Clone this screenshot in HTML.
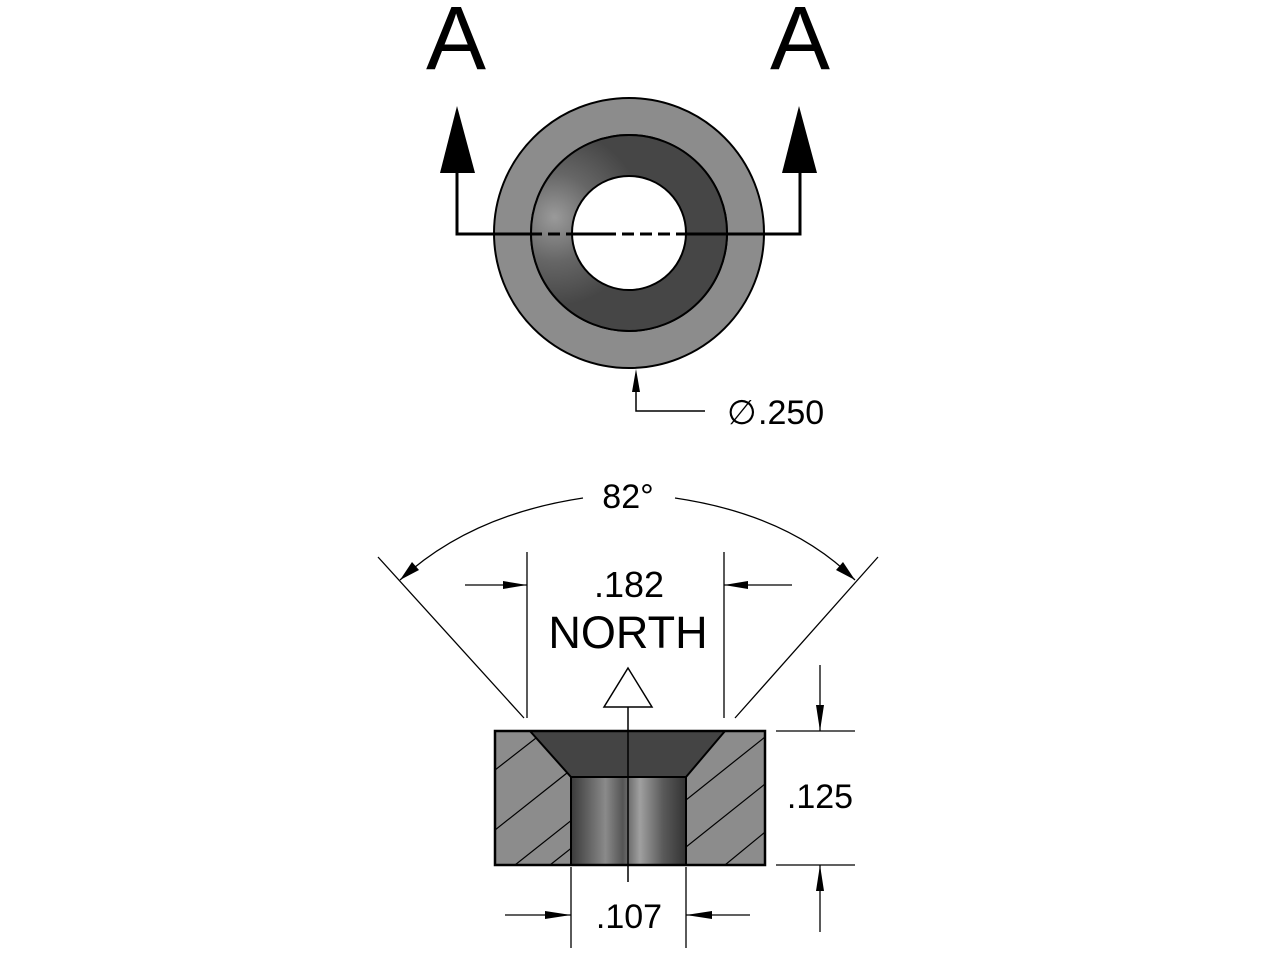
<!DOCTYPE html>
<html><head><style>html,body{margin:0;padding:0;background:#fff;}svg{display:block}</style></head><body>
<svg width="1280" height="960" viewBox="0 0 1280 960" xmlns="http://www.w3.org/2000/svg" font-family="Liberation Sans, sans-serif">
<defs>
<linearGradient id="bore" x1="0" x2="1" y1="0" y2="0">
<stop offset="0" stop-color="#3a3a3a"/><stop offset="0.3" stop-color="#8a8a8a"/><stop offset="0.45" stop-color="#555"/><stop offset="0.6" stop-color="#a0a0a0"/><stop offset="0.8" stop-color="#5a5a5a"/><stop offset="1" stop-color="#333"/>
</linearGradient>
<radialGradient id="ring" cx="0.12" cy="0.42" r="0.45">
<stop offset="0" stop-color="#9a9a9a"/><stop offset="0.5" stop-color="#666"/><stop offset="1" stop-color="#464646"/>
</radialGradient>
<clipPath id="lc"><polygon points="495,731 530,731 571,777 571,865 495,865"/></clipPath>
<clipPath id="rc"><polygon points="725,731 765,731 765,865 686,865 686,777"/></clipPath>
</defs>
<text x="456" y="69" font-size="90" text-anchor="middle">A</text>
<text x="800" y="69" font-size="90" text-anchor="middle">A</text>
<circle cx="629" cy="233" r="135" fill="#8c8c8c" stroke="#000" stroke-width="2"/>
<circle cx="629" cy="233" r="98" fill="#464646" stroke="#000" stroke-width="2"/>
<circle cx="629" cy="233" r="98" fill="url(#ring)" stroke="#000" stroke-width="2"/>
<circle cx="629" cy="233" r="57" fill="#fff" stroke="#000" stroke-width="2"/>
<polyline points="457,172 457,234 530,234" fill="none" stroke="#000" stroke-width="3"/>
<polyline points="800,172 800,234 726,234" fill="none" stroke="#000" stroke-width="3"/>
<line x1="530" y1="234" x2="726" y2="234" stroke="#000" stroke-width="3" stroke-dasharray="12,6,12,6,50,6,12,6"/>
<polygon points="457,106 440,173 475,173" fill="#000"/>
<polygon points="799,106 782,173 817,173" fill="#000"/>
<polyline points="636,380 636,411 705,411" fill="none" stroke="#000" stroke-width="1.5"/>
<polygon points="636,369 632,392 640,392" fill="#000"/>
<text x="727" y="424" font-size="34">∅</text>
<text x="758" y="424" font-size="34">.250</text>
<rect x="495" y="731" width="270" height="134" fill="#8c8c8c"/>
<g clip-path="url(#lc)" stroke="#000" stroke-width="1.2">
<line x1="495" y1="770" x2="545" y2="731"/><line x1="495" y1="830" x2="620" y2="731"/><line x1="515" y1="865" x2="640" y2="766"/><line x1="550" y1="865" x2="680" y2="762"/>
</g>
<g clip-path="url(#rc)" stroke="#000" stroke-width="1.2">
<line x1="686" y1="800" x2="770" y2="733"/><line x1="686" y1="847" x2="770" y2="780"/><line x1="725" y1="865" x2="770" y2="828"/>
</g>
<polygon points="530,731 725,731 686,777 571,777" fill="#444" stroke="#000" stroke-width="2"/>
<rect x="571" y="777" width="115" height="88" fill="url(#bore)" stroke="#000" stroke-width="2"/>
<rect x="495" y="731" width="270" height="134" fill="none" stroke="#000" stroke-width="2.5"/>
<line x1="628" y1="705" x2="628" y2="882" stroke="#000" stroke-width="1.5"/>
<polygon points="628,668 604,707 652,707" fill="#fff" stroke="#000" stroke-width="1.5"/>
<line x1="378" y1="557" x2="524" y2="718" stroke="#000" stroke-width="1.3"/>
<line x1="878" y1="557" x2="735" y2="718" stroke="#000" stroke-width="1.3"/>
<path d="M400,580 Q470,515 583,498" fill="none" stroke="#000" stroke-width="1.3"/>
<path d="M675,498 Q790,515 855,580" fill="none" stroke="#000" stroke-width="1.3"/>
<polygon points="400,580 412,562 419,570" fill="#000"/>
<polygon points="855,580 843,562 836,570" fill="#000"/>
<text x="628" y="508" font-size="34" text-anchor="middle">82°</text>
<line x1="527" y1="552" x2="527" y2="718" stroke="#000" stroke-width="1.3"/>
<line x1="724" y1="552" x2="724" y2="718" stroke="#000" stroke-width="1.3"/>
<line x1="465" y1="585" x2="527" y2="585" stroke="#000" stroke-width="1.3"/>
<polygon points="527,585 503,581 503,589" fill="#000"/>
<line x1="724" y1="585" x2="792" y2="585" stroke="#000" stroke-width="1.3"/>
<polygon points="724,585 748,581 748,589" fill="#000"/>
<text x="629" y="597" font-size="36" text-anchor="middle">.182</text>
<text x="628" y="648" font-size="45" text-anchor="middle">NORTH</text>
<line x1="776" y1="731" x2="855" y2="731" stroke="#000" stroke-width="1.3"/>
<line x1="776" y1="865" x2="855" y2="865" stroke="#000" stroke-width="1.3"/>
<line x1="820" y1="665" x2="820" y2="731" stroke="#000" stroke-width="1.3"/>
<polygon points="820,731 816,705 824,705" fill="#000"/>
<line x1="820" y1="865" x2="820" y2="932" stroke="#000" stroke-width="1.3"/>
<polygon points="820,865 816,891 824,891" fill="#000"/>
<text x="820" y="808" font-size="34" text-anchor="middle">.125</text>
<line x1="571" y1="867" x2="571" y2="948" stroke="#000" stroke-width="1.3"/>
<line x1="686" y1="867" x2="686" y2="948" stroke="#000" stroke-width="1.3"/>
<line x1="505" y1="915" x2="571" y2="915" stroke="#000" stroke-width="1.3"/>
<polygon points="571,915 545,911 545,919" fill="#000"/>
<line x1="686" y1="915" x2="750" y2="915" stroke="#000" stroke-width="1.3"/>
<polygon points="686,915 712,911 712,919" fill="#000"/>
<text x="629" y="928" font-size="34" text-anchor="middle">.107</text>
</svg>
</body></html>
